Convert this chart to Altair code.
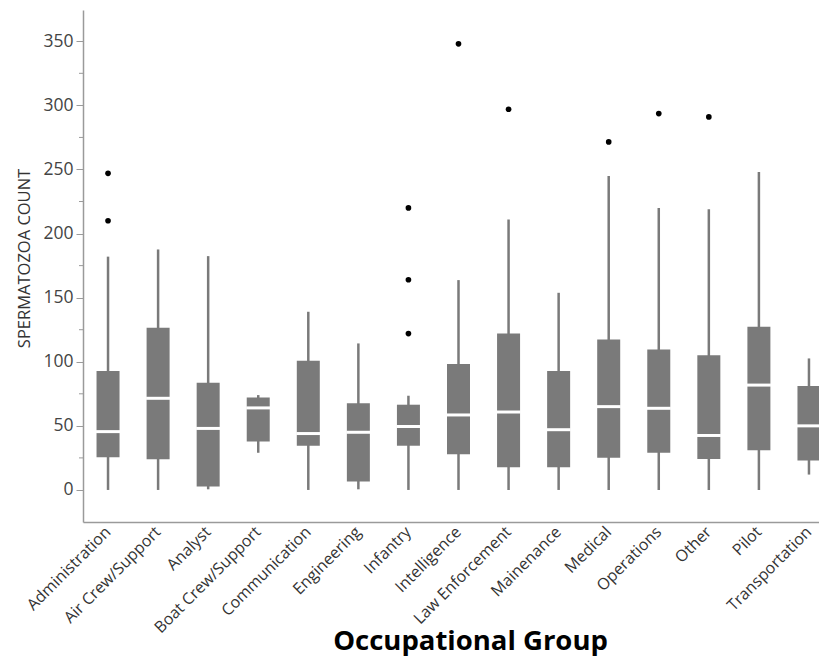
import altair as alt
import pandas as pd

categories = ["Administration", "Air Crew/Support", "Analyst", "Boat Crew/Support",
              "Communication", "Engineering", "Infantry", "Intelligence",
              "Law Enforcement", "Mainenance", "Medical", "Operations", "Other",
              "Pilot", "Transportation"]
whisker_low = [0, 0, 0.5, 29, 0, 0.5, 0, 0, 0, 0, 0, 0, 0, 0, 12]
q1 = [25.5, 24, 2.6, 37.7, 34.5, 6.5, 34.5, 27.8, 17.7, 17.7, 25.2, 29, 24.2, 31, 23]
median = [45.5, 71.5, 48, 64, 44, 45, 49.5, 58.5, 60.8, 47, 65, 63.7, 42.5, 81.8, 50]
q3 = [92.7, 126.5, 83.6, 72.2, 100.8, 67.6, 66.5, 98.2, 122, 92.7, 117.4, 109.6, 105, 127.3, 81]
whisker_high = [182, 187.6, 182.4, 74, 139, 114.3, 73.5, 163.7, 211, 153.8, 245, 220, 219, 248, 102.6]

outlier_cat = ["Administration", "Administration", "Infantry", "Infantry", "Infantry",
               "Intelligence", "Law Enforcement", "Medical", "Operations", "Other"]
outlier_val = [247, 210, 220, 164, 122, 348, 297, 271.5, 293.6, 291]

major_ticks = [0, 50, 100, 150, 200, 250, 300, 350]
minor_ticks = [25, 75, 125, 175, 225, 275, 325]

boxes = pd.DataFrame({"cat": categories, "lo": whisker_low, "q1": q1, "med": median,
                      "q3": q3, "hi": whisker_high})
outliers = pd.DataFrame({"cat": outlier_cat, "val": outlier_val})
minor = pd.DataFrame({"v": minor_ticks})

FONT = "Open Sans"
GRAY = "#7a7a7a"

xscale = alt.Scale(domain=categories, range=[0, 751], paddingInner=0, paddingOuter=0)
yscale = alt.Scale(domain=[-25, 374.4], nice=False, zero=False)

x_enc = alt.X("cat:N", scale=xscale, sort=categories,
              axis=alt.Axis(title="Occupational Group", labelAngle=-45, labelAlign="right",
                            labelBaseline="middle", ticks=False, labelPadding=7,
                            labelFont=FONT, labelFontSize=16, labelColor="#333333",
                            domainColor="#9a9a9a", domainWidth=1.5,
                            titleFont=FONT, titleFontSize=27.5, titleFontWeight="bold",
                            titleColor="#000000", titleX=387, titleY=127,
                            titleBaseline="alphabetic", titleAnchor="middle",
                            labelOverlap=False))
y_axis = alt.Axis(title="SPERMATOZOA COUNT", values=major_ticks, tickSize=7,
                  tickColor="#9a9a9a", domainColor="#9a9a9a", domainWidth=1.5,
                  grid=False, labelFont=FONT, labelFontSize=17.5, labelColor="#444444",
                  labelPadding=3, titleFont=FONT, titleFontSize=16.5,
                  titleFontWeight="normal", titleColor="#333333", titlePadding=10,
                  titleY=248)

whiskers = alt.Chart(boxes).mark_rule(color=GRAY, strokeWidth=2.5).encode(
    x=x_enc,
    y=alt.Y("lo:Q", scale=yscale, axis=y_axis),
    y2="hi:Q",
)
box = alt.Chart(boxes).mark_bar(color=GRAY, size=23).encode(
    x=alt.X("cat:N", scale=xscale, sort=categories),
    y=alt.Y("q1:Q", scale=yscale),
    y2="q3:Q",
)
med = alt.Chart(boxes).mark_tick(color="white", thickness=3, size=24, opacity=1).encode(
    x=alt.X("cat:N", scale=xscale, sort=categories),
    y=alt.Y("med:Q", scale=yscale),
)
pts = alt.Chart(outliers).mark_circle(color="black", size=32, opacity=1).encode(
    x=alt.X("cat:N", scale=xscale, sort=categories),
    y=alt.Y("val:Q", scale=yscale),
)
minor_rules = alt.Chart(minor).mark_rule(color="#9a9a9a", strokeWidth=1).encode(
    x=alt.value(-4), x2=alt.value(0),
    y=alt.Y("v:Q", scale=yscale),
)

chart = alt.layer(whiskers, box, med, pts, minor_rules).properties(
    width=736, height=512,
    background="white",
    autosize=alt.AutoSizeParams(type="none"),
    padding={"left": 75, "top": 2, "right": 0, "bottom": 135},
).configure_view(stroke="transparent", strokeWidth=0)

chart.save("out.html", embed_options={"renderer": "svg", "actions": False})
